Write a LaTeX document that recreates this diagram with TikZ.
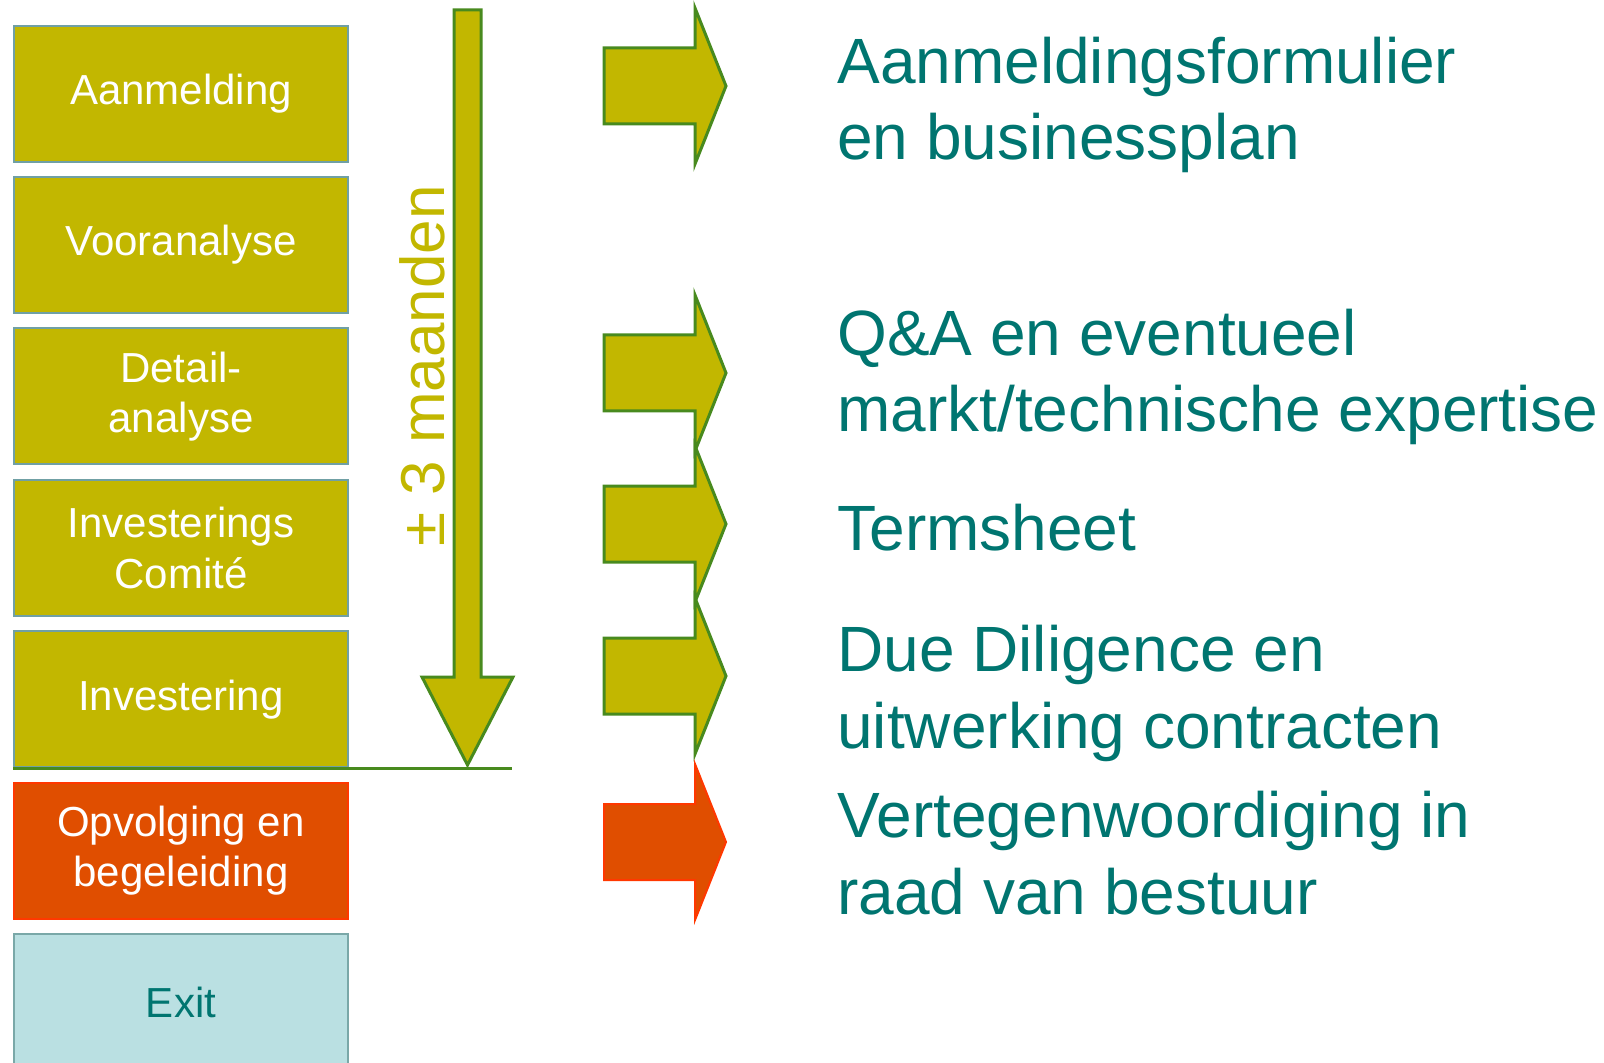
\documentclass[tikz,border=0pt]{standalone}
\usepackage{fontspec}
\setmainfont{Liberation Sans}
\definecolor{olijf}{RGB}{194,183,0}
\definecolor{loofgroen}{RGB}{72,138,30}
\definecolor{randblauw}{RGB}{112,160,165}
\definecolor{oranje}{RGB}{224,78,0}
\definecolor{oranjerand}{RGB}{255,56,0}
\definecolor{ijsblauw}{RGB}{186,224,226}
\definecolor{exitrand}{RGB}{122,168,168}
\definecolor{petrol}{RGB}{0,117,112}
\def\blokpijl[#1](#2){\draw[#1] (604,#2-38) -- (695,#2-38) -- (695,#2-78) -- (726,#2) -- (695,#2+78) -- (695,#2+38) -- (604,#2+38) -- cycle;}
\tikzset{
  fase/.style={draw=randblauw, fill=olijf, line width=1pt, minimum width=167pt, minimum height=68pt, inner sep=0pt, text=white, align=center, font=\fontsize{21}{25.2}\selectfont},
  stap/.style={anchor=base west, text=petrol, align=left, inner sep=0pt, font=\fontsize{32}{38.3}\selectfont},
  groenpijl/.style={draw=loofgroen, fill=olijf, line width=1.5pt},
  oranjepijl/.style={draw=oranjerand, fill=oranje, line width=1pt}
}

\begin{document}
\begin{tikzpicture}[x=0.5pt, y=-0.5pt]
			%%%%% START %%%%%
			\useasboundingbox (0,0) rectangle (1604,1063);
			\clip (0,0) rectangle (1604,1063);
			
			\node[fase] (aanmelding) at (181,93.6) {Aanmelding};
			\node[fase] (vooranalyse) at (181,245) {Vooranalyse};
			\node[fase] (detail) at (181,396.4) {Detail-\\analyse};
			\node[fase] (comite) at (181,547.8) {Investerings\\Comité};
			\node[fase] (investering) at (181,699.2) {Investering};
			\node[fase, draw=oranjerand, fill=oranje] (opvolging) at (181,850.6) {Opvolging en\\begeleiding};
			\node[fase, draw=exitrand, fill=ijsblauw, text=petrol] (exit) at (181,1002) {Exit};
			
			\draw[groenpijl] (454,10) -- (481,10) -- (481,677) -- (513,677) -- (467.5,765) -- (422,677) -- (454,677) -- cycle;
			\draw[loofgroen, line width=1.5pt] (investering.south west) -- ++(499,0);
			\node[rotate=90, anchor=base, text=olijf, inner sep=0pt, font=\fontsize{31}{36}\selectfont] (duur) at (444,366) {± 3 maanden};
			
			\blokpijl[groenpijl](86)
			\blokpijl[groenpijl](373)
			\blokpijl[groenpijl](524)
			\blokpijl[groenpijl](676)
			\blokpijl[oranjepijl](842)
			
			% base = laatste regel
			\node[stap] (formulier) at (837,160) {Aanmeldingsformulier\\en businessplan};
			\node[stap] (expertise) at (837,431.7) {Q\&A en eventueel\\markt/technische expertise};
			\node[stap] (termsheet) at (837,550) {Termsheet};
			\node[stap] (diligence) at (837,748.3) {Due Diligence en\\uitwerking contracten};
			\node[stap] (bestuur) at (837,914) {Vertegenwoordiging in\\raad van bestuur};
			%%%%% END %%%%%
\end{tikzpicture}
\end{document}
